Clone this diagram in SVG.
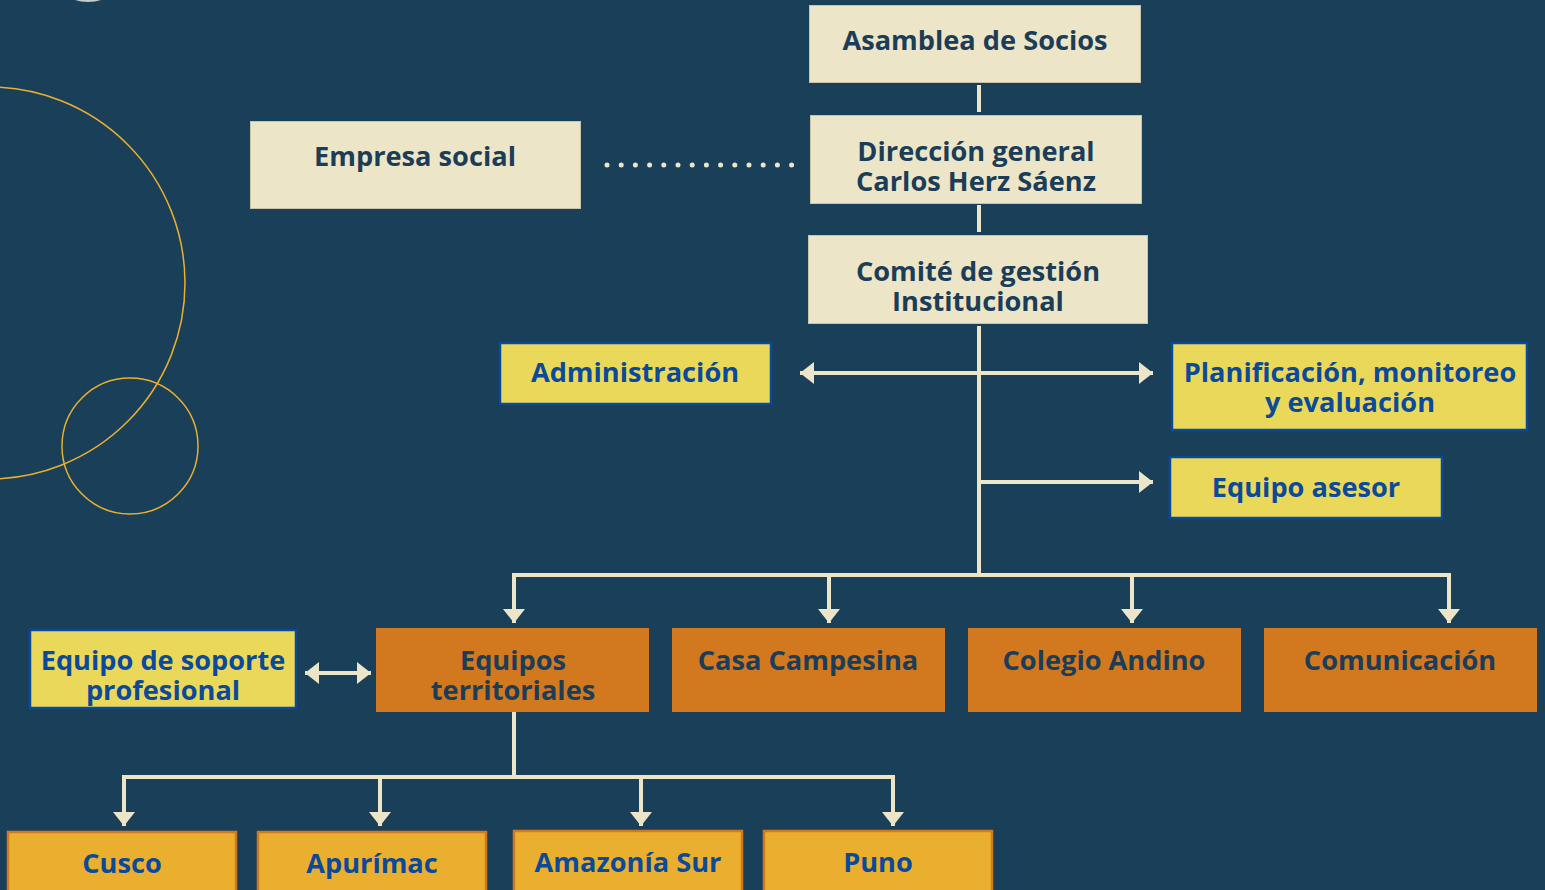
<svg xmlns="http://www.w3.org/2000/svg" width="1545" height="890" viewBox="0 0 1545 890">
<style>
.bg{fill:#1a3f58}
.cream{fill:#ece5c8;stroke:#c9c3aa;stroke-width:1}
.yel{fill:#ead85a;stroke:#0b4a9a;stroke-width:2.5}
.org{fill:#d2781f}
.gold{fill:#ebaf2f;stroke:#d2781f;stroke-width:2.5}
text{font-family:"Open Sans","Noto Sans",sans-serif;font-weight:700;font-size:27.2px;text-anchor:middle}
.td{fill:#1b3d57}
.tb{fill:#0b4a9a}
.ln{stroke:#ece5c8;stroke-width:4;fill:none}
.deco{fill:none;stroke:#ebaf2f;stroke-width:1.5}
</style>
<defs>
<marker id="ah" markerUnits="userSpaceOnUse" markerWidth="22" markerHeight="22" refX="14" refY="11" orient="auto-start-reverse" viewBox="0 0 22 22">
<path d="M0,0 L14,11 L0,22 Z" fill="#ece5c8"/>
</marker>
</defs>
<rect class="bg" x="0" y="0" width="1545" height="890"/>
<g id="decor">
<circle cx="88" cy="-40" r="41" fill="none" stroke="#c8cdc8" stroke-width="2"/>
<circle class="deco" cx="-11" cy="283" r="196"/>
<circle class="deco" cx="130" cy="446" r="68"/>
</g>
<g id="connectors">
<line class="ln" x1="979" y1="85" x2="979" y2="112"/>
<line class="ln" x1="979" y1="205" x2="979" y2="232"/>
<line class="ln" x1="979" y1="326" x2="979" y2="577"/>
<line x1="607" y1="165" x2="792" y2="165" stroke="#ece5c8" stroke-width="5" stroke-linecap="round" stroke-dasharray="0 14.2"/>
<line class="ln" x1="800" y1="373" x2="1153" y2="373" marker-start="url(#ah)" marker-end="url(#ah)"/>
<line class="ln" x1="981" y1="482" x2="1153" y2="482" marker-end="url(#ah)"/>
<polyline class="ln" points="514,623 514,575 1449,575 1449,623" marker-start="url(#ah)" marker-end="url(#ah)"/>
<line class="ln" x1="829" y1="573" x2="829" y2="623" marker-end="url(#ah)"/>
<line class="ln" x1="1132" y1="573" x2="1132" y2="623" marker-end="url(#ah)"/>
<line class="ln" x1="305" y1="673" x2="371" y2="673" marker-start="url(#ah)" marker-end="url(#ah)"/>
<line class="ln" x1="514" y1="712" x2="514" y2="779"/>
<polyline class="ln" points="124,826 124,777 893,777 893,826" marker-start="url(#ah)" marker-end="url(#ah)"/>
<line class="ln" x1="380" y1="775" x2="380" y2="826" marker-end="url(#ah)"/>
<line class="ln" x1="641" y1="775" x2="641" y2="826" marker-end="url(#ah)"/>
</g>
<g id="asamblea"><rect class="cream" x="809.5" y="5.5" width="331" height="77"/><text class="td" x="975" y="50">Asamblea de Socios</text></g>
<g id="direccion"><rect class="cream" x="810.5" y="115.5" width="331" height="88"/><text class="td" x="976" y="161">Dirección general</text><text class="td" x="976" y="191">Carlos Herz Sáenz</text></g>
<g id="comite"><rect class="cream" x="808.5" y="235.5" width="339" height="88"/><text class="td" x="978" y="281">Comité de gestión</text><text class="td" x="978" y="311">Institucional</text></g>
<g id="empresa"><rect class="cream" x="250.5" y="121.5" width="330" height="87"/><text class="td" x="415" y="166">Empresa social</text></g>
<g id="administracion"><rect class="yel" x="500" y="343" width="271" height="61"/><text class="tb" x="635" y="382">Administración</text></g>
<g id="planificacion"><rect class="yel" x="1172" y="343" width="355" height="87"/><text class="tb" x="1350" y="382">Planificación, monitoreo</text><text class="tb" x="1350" y="412">y evaluación</text></g>
<g id="asesor"><rect class="yel" x="1170" y="457" width="272" height="61"/><text class="tb" x="1306" y="497">Equipo asesor</text></g>
<g id="soporte"><rect class="yel" x="30" y="630" width="266" height="78"/><text class="tb" x="163" y="670">Equipo de soporte</text><text class="tb" x="163" y="700">profesional</text></g>
<g id="territoriales"><rect class="org" x="376" y="628" width="273" height="84"/><text class="td" x="513" y="670">Equipos</text><text class="td" x="513" y="700">territoriales</text></g>
<g id="casa"><rect class="org" x="672" y="628" width="273" height="84"/><text class="td" x="808" y="670">Casa Campesina</text></g>
<g id="colegio"><rect class="org" x="968" y="628" width="273" height="84"/><text class="td" x="1104" y="670">Colegio Andino</text></g>
<g id="comunicacion"><rect class="org" x="1264" y="628" width="273" height="84"/><text class="td" x="1400" y="670">Comunicación</text></g>
<g id="cusco"><rect class="gold" x="8" y="832" width="228" height="70"/><text class="tb" x="122" y="873">Cusco</text></g>
<g id="apurimac"><rect class="gold" x="258" y="832" width="228" height="70"/><text class="tb" x="372" y="873">Apurímac</text></g>
<g id="amazonia"><rect class="gold" x="514" y="831" width="228" height="70"/><text class="tb" x="628" y="872">Amazonía Sur</text></g>
<g id="puno"><rect class="gold" x="764" y="831" width="228" height="70"/><text class="tb" x="878" y="872">Puno</text></g>
</svg>
